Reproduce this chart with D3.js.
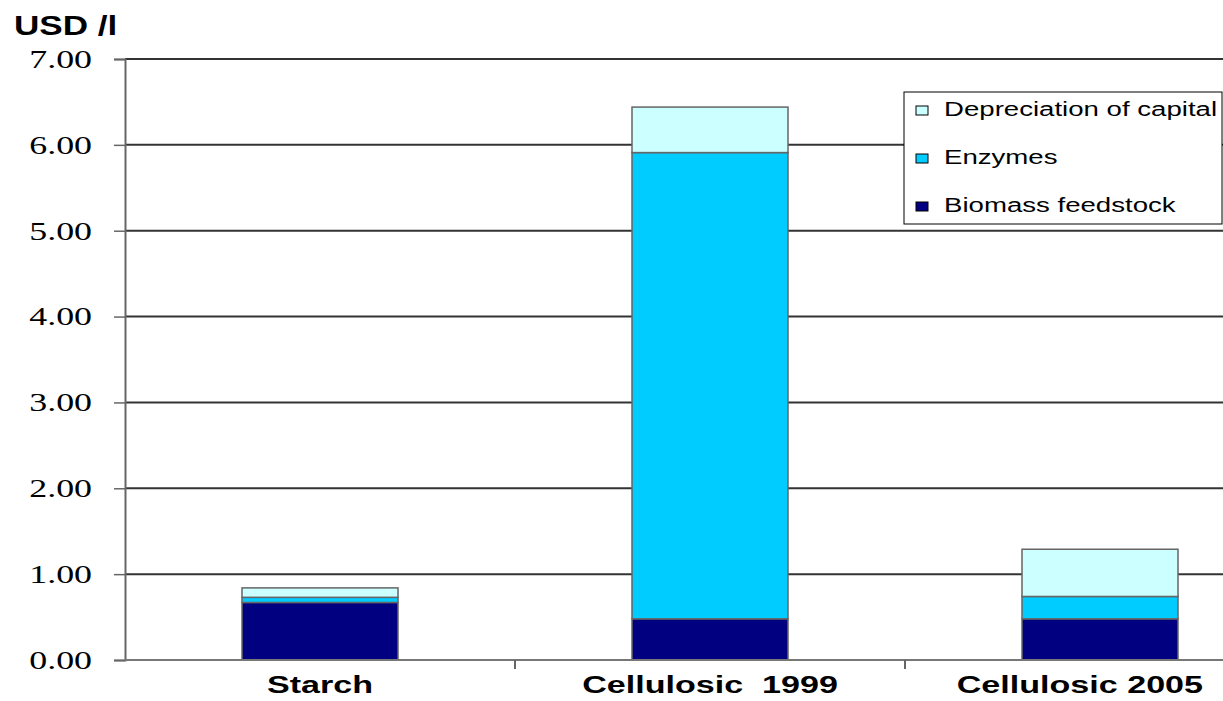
<!DOCTYPE html>
<html><head><meta charset="utf-8">
<script src="https://cdn.jsdelivr.net/npm/d3@7"></script>
<style>body{margin:0;background:#fff;overflow:hidden}</style>
</head><body>
<svg id="c" width="1223" height="701"></svg>
<script>
const categories = ["Starch", "Cellulosic  1999", "Cellulosic 2005"];
const seriesNames = ["Biomass feedstock", "Enzymes", "Depreciation of capital"];
const biomass = [0.67, 0.48, 0.48];
const enzymes = [0.06, 5.43, 0.26];
const depreciation = [0.11, 0.53, 0.55];
const yTicks = [0, 1, 2, 3, 4, 5, 6, 7];
const colors = ["#000080", "#00CCFF", "#CCFFFF"];

const svg = d3.select("#c");
const x = d3.scaleBand().domain(categories).range([125, 1295]).paddingInner(0.6).paddingOuter(0.3);
const y = d3.scaleLinear().domain([0, 7]).range([660, 59]);

function stretch(k) {
  return sel => sel.each(function(){ const l = this.getComputedTextLength(); d3.select(this).attr("textLength", l*k).attr("lengthAdjust","spacingAndGlyphs"); });
}

// gridlines
svg.append("g").selectAll("line").data(yTicks.filter(d => d > 0)).join("line")
  .attr("x1", 125).attr("x2", 1223).attr("y1", d => y(d)).attr("y2", d => y(d))
  .attr("stroke", "#333").attr("stroke-width", 2);

// stacked bars
const rows = categories.map((c, i) => ({cat: c, "Biomass feedstock": biomass[i], "Enzymes": enzymes[i], "Depreciation of capital": depreciation[i]}));
const stack = d3.stack().keys(seriesNames)(rows);
svg.append("g").selectAll("g").data(stack).join("g").attr("fill", (d, i) => colors[i])
  .selectAll("rect").data(d => d).join("rect")
  .attr("x", d => x(d.data.cat)).attr("width", x.bandwidth())
  .attr("y", d => y(d[1])).attr("height", d => y(d[0]) - y(d[1]))
  .attr("stroke", "#666").attr("stroke-width", 1.5);

// y axis
const yAxis = svg.append("g").attr("transform", "translate(125,0)")
  .call(d3.axisLeft(y).tickValues(yTicks).tickFormat(d3.format(".2f")).tickSize(11).tickPadding(22));
yAxis.select(".domain").attr("stroke", "#666").attr("stroke-width", 2);
yAxis.selectAll(".tick line").attr("stroke", "#666").attr("stroke-width", 1.5);
yAxis.selectAll("text").attr("font-family", "Liberation Serif, Times New Roman, serif").attr("font-size", 26)
  .attr("fill", "#000").call(stretch(1.38));

// x axis
const xAxis = svg.append("g").attr("transform", "translate(0,660)")
  .call(d3.axisBottom(x).tickSize(0));
xAxis.select(".domain").attr("stroke", "#777").attr("stroke-width", 2).attr("d", "M125,0H1223");
xAxis.selectAll("text").attr("y", 33).attr("dy", 0).style("white-space", "pre")
  .attr("font-family", "Liberation Sans, Arial, sans-serif").attr("font-weight", "bold")
  .attr("font-size", 23.5).attr("fill", "#000").call(stretch(1.45));
// keep labels inside the picture
xAxis.selectAll(".tick").each(function(d){
  const t = d3.select(this).select("text");
  const half = +t.attr("textLength") / 2;
  const cx = x(d) + x.bandwidth() / 2;
  const over = cx + half - 1203;
  if (over > 0) t.attr("x", -over);
});
// category separator ticks
const sep = categories.slice(1).map(c => x(c) - x.step() * x.paddingInner() / 2);
svg.append("g").selectAll("line").data(sep).join("line")
  .attr("x1", d => d).attr("x2", d => d).attr("y1", 660).attr("y2", 669)
  .attr("stroke", "#666").attr("stroke-width", 2);

// title
svg.append("text").attr("x", 14).attr("y", 35).text("USD /l")
  .attr("font-family", "Liberation Sans, Arial, sans-serif").attr("font-weight", "bold").attr("font-size", 27)
  .call(stretch(1.3));

// legend
const lg = svg.append("g").attr("transform", "translate(904,92)");
lg.append("rect").attr("width", 318).attr("height", 132).attr("fill", "#fff").attr("stroke", "#000").attr("stroke-width", 1);
const legendOrder = seriesNames.slice().reverse();
const item = lg.selectAll("g.it").data(legendOrder).join("g").attr("class", "it")
  .attr("transform", (d, i) => `translate(0,${24 + i * 48})`);
item.append("rect").attr("x", 12).attr("y", -10).attr("width", 12).attr("height", 9)
  .attr("fill", d => colors[seriesNames.indexOf(d)]).attr("stroke", "#000").attr("stroke-width", 1);
item.append("text").attr("x", 40).attr("y", 0).text(d => d)
  .attr("font-family", "Liberation Sans, Arial, sans-serif").attr("font-size", 20).call(stretch(1.38));
</script>
</body></html>
